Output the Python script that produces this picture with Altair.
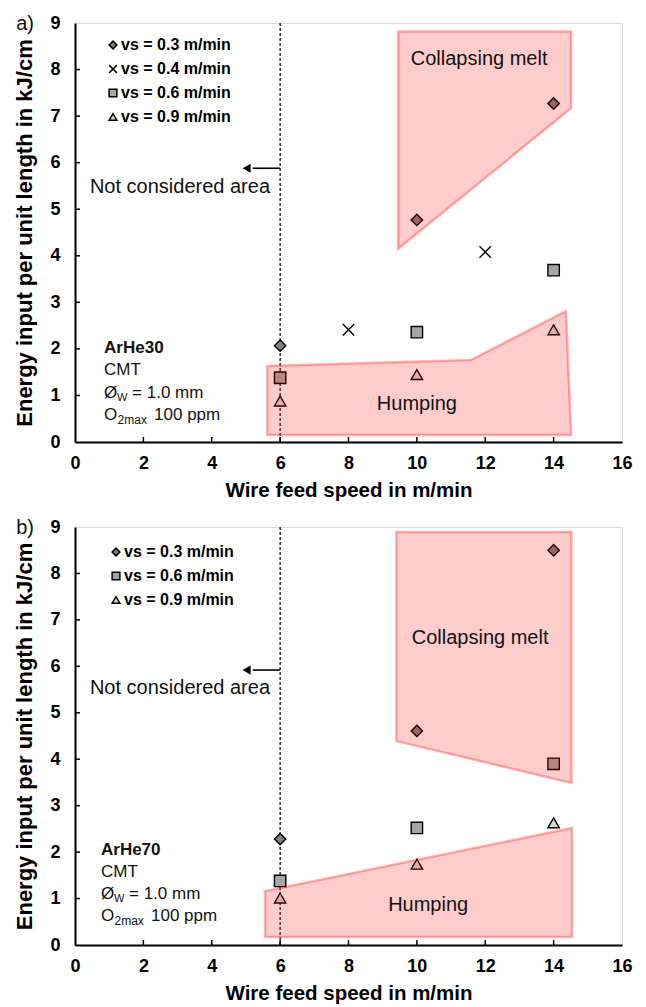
import altair as alt
import pandas as pd

FONT = "Liberation Sans"

# ---------------- data ----------------
series_names = ["vs = 0.3 m/min", "vs = 0.4 m/min", "vs = 0.6 m/min", "vs = 0.9 m/min"]

# panel a) ArHe30
a_wfs_03 = [6, 10, 14]
a_e_03 = [2.07, 4.77, 7.27]
a_wfs_04 = [8, 12]
a_e_04 = [2.41, 4.08]
a_wfs_06 = [6, 10, 14]
a_e_06 = [1.38, 2.36, 3.69]
a_wfs_09 = [6, 10, 14]
a_e_09 = [0.88, 1.45, 2.41]

# panel b) ArHe70
b_wfs_03 = [6, 10, 14]
b_e_03 = [2.28, 4.61, 8.50]
b_wfs_06 = [6, 10, 14]
b_e_06 = [1.38, 2.52, 3.90]
b_wfs_09 = [6, 10, 14]
b_e_09 = [1.01, 1.74, 2.63]

# process-window regions (x, upper, lower)
a_collapse_x = [9.45, 14.51]
a_collapse_top = [8.82, 8.82]
a_collapse_bot = [4.15, 7.17]
a_hump_x = [5.62, 11.58, 14.36, 14.51]
a_hump_top = [1.63, 1.76, 2.81, 0.15]
a_hump_bot = [0.15, 0.15, 0.15, 0.15]

b_collapse_x = [9.40, 14.52]
b_collapse_top = [8.89, 8.89]
b_collapse_bot = [4.39, 3.49]
b_hump_x = [5.56, 14.54]
b_hump_top = [1.16, 2.52]
b_hump_bot = [0.17, 0.17]

x_ticks = [0, 2, 4, 6, 8, 10, 12, 14, 16]
y_ticks = [0, 1, 2, 3, 4, 5, 6, 7, 8, 9]

W = 547

shape_map = {
    "vs = 0.3 m/min": "diamond",
    "vs = 0.4 m/min": "M-1,-1L1,1M-1,1L1,-1",
    "vs = 0.6 m/min": "square",
    "vs = 0.9 m/min": "triangle-up",
}
fill_map = {
    "vs = 0.3 m/min": "#7f7f7f",
    "vs = 0.4 m/min": "#000000",
    "vs = 0.6 m/min": "#a6a6a6",
    "vs = 0.9 m/min": "#d9d9d9",
}


def legend(lx, ly):
    return alt.Legend(title=None, orient="none", legendX=lx, legendY=ly,
                      labelFont=FONT, labelFontSize=16, labelFontWeight="bold",
                      labelColor="black", symbolSize=60, rowPadding=8,
                      labelOffset=0, padding=0)


def panel(letter, gas, pts, collapse, hump, H, legend_xy, txt):
    xs = alt.Scale(domain=[0, 16], nice=False, zero=False)
    ys = alt.Scale(domain=[0, 9], nice=False, zero=False)
    xaxis = alt.Axis(values=x_ticks, grid=False, ticks=False, domainColor="black",
                     domainWidth=2, labelFont=FONT, labelFontWeight="bold",
                     labelFontSize=18, labelColor="black", labelPadding=12,
                     labelFlush=False,
                     title="Wire feed speed in m/min", titleFont=FONT,
                     titleFontWeight="bold", titleFontSize=20.5, titleColor="black",
                     titlePadding=8, format="d")
    yaxis = alt.Axis(values=y_ticks, grid=False, ticks=False, domainColor="black",
                     domainWidth=2, labelFont=FONT, labelFontWeight="bold",
                     labelFontSize=18, labelColor="black", labelPadding=15,
                     labelFlush=False,
                     title="Energy input per unit length in kJ/cm", titleFont=FONT,
                     titleFontWeight="bold", titleFontSize=22, titleColor="black",
                     titlePadding=13, format="d")
    X = alt.X("x:Q", scale=xs, axis=xaxis)
    Y = alt.Y("y:Q", scale=ys, axis=yaxis)

    rows = []
    for name, xv, yv in pts:
        for a, b in zip(xv, yv):
            rows.append({"x": a, "y": b, "series": name})
    pdf = pd.DataFrame(rows)
    names = [p[0] for p in pts]

    dashed = alt.Chart(pd.DataFrame({"x": [6]})).mark_rule(
        color="black", strokeDash=[3, 2], strokeWidth=1.2).encode(x=X)

    arrow_line = alt.Chart(pd.DataFrame({"x": [6], "x2": [5.2], "y": [txt["arrow_y"]]})).mark_rule(
        color="black", strokeWidth=1.6).encode(x=X, x2="x2:Q", y=Y)
    arrow_head = alt.Chart(pd.DataFrame({"x": [5.02], "y": [txt["arrow_y"]]})).mark_point(
        shape="triangle-left", filled=True, color="black", size=85, opacity=1).encode(x=X, y=Y)

    points = alt.Chart(pdf).mark_point(filled=True, stroke="black", strokeWidth=1.4,
                                       size=130, opacity=1).encode(
        x=X, y=Y,
        shape=alt.Shape("series:N", scale=alt.Scale(domain=names, range=[shape_map[n] for n in names]),
                        legend=legend(*legend_xy)),
        fill=alt.Fill("series:N", scale=alt.Scale(domain=names, range=[fill_map[n] for n in names]),
                      legend=legend(*legend_xy)),
    )

    def region(xv, top, bot):
        return alt.Chart(pd.DataFrame({"x": xv, "y": top, "y2": bot})).mark_area(
            fill="#ff0000", fillOpacity=0.2, stroke="#ff0000", strokeOpacity=0.3,
            strokeWidth=2.5).encode(x=X, y=Y, y2="y2:Q")

    reg1 = region(*collapse)
    reg2 = region(*hump)

    def text(x, y, s, size=20, weight="normal", align="center", dx=0, dy=0):
        return alt.Chart(pd.DataFrame({"x": [x], "y": [y], "t": [s]})).mark_text(
            font=FONT, fontSize=size, fontWeight=weight, align=align, baseline="middle",
            color="#111111", dx=dx, dy=dy).encode(x=X, y=Y, text="t:N")

    ax, ay = txt["anno"]
    layers = [
        dashed, arrow_line, arrow_head, points, reg1, reg2,
        text(3.07, txt["nca_y"], "Not considered area"),
        text(txt["cm"][0], txt["cm"][1], "Collapsing melt"),
        text(txt["hu"][0], txt["hu"][1], "Humping"),
        text(ax, ay[0], gas, size=17, weight="bold", align="left"),
        text(ax, ay[1], "CMT", size=17, align="left"),
        text(ax, ay[2], "Ø", size=17, align="left"),
        text(ax, ay[2], "W", size=11, align="left", dx=13, dy=5),
        text(ax, ay[2], "= 1.0 mm", size=17, align="left", dx=28),
        text(ax, ay[3], "O", size=17, align="left"),
        text(ax, ay[3], "2max", size=12, align="left", dx=13.5, dy=5),
        text(ax, ay[3], "100 ppm", size=17, align="left", dx=50),
        text(-1.46, 9, letter, size=20, align="center", dy=1),
    ]
    # inward ticks
    xt = alt.Chart(pd.DataFrame({"x": x_ticks[1:-1]})).mark_rule(color="black", strokeWidth=1.5).encode(
        x=X, y=alt.value(H), y2=alt.value(H - 5))
    yt = alt.Chart(pd.DataFrame({"y": y_ticks[1:-1]})).mark_rule(color="black", strokeWidth=1.5).encode(
        y=Y, x=alt.value(0), x2=alt.value(5))
    layers += [xt, yt]
    return alt.layer(*layers).properties(width=W, height=H).resolve_scale(
        shape="independent", fill="independent")


pts_a = [
    (series_names[0], a_wfs_03, a_e_03),
    (series_names[1], a_wfs_04, a_e_04),
    (series_names[2], a_wfs_06, a_e_06),
    (series_names[3], a_wfs_09, a_e_09),
]
pts_b = [
    (series_names[0], b_wfs_03, b_e_03),
    (series_names[2], b_wfs_06, b_e_06),
    (series_names[3], b_wfs_09, b_e_09),
]

chart_a = panel("a)", "ArHe30", pts_a,
                (a_collapse_x, a_collapse_top, a_collapse_bot),
                (a_hump_x, a_hump_top, a_hump_bot), 419, (30, 14),
                {"arrow_y": 5.88, "nca_y": 5.48, "cm": (11.82, 8.23), "hu": (10.0, 0.82),
                 "anno": (0.85, [2.02, 1.55, 1.05, 0.58])})
chart_b = panel("b)", "ArHe70", pts_b,
                (b_collapse_x, b_collapse_top, b_collapse_bot),
                (b_hump_x, b_hump_top, b_hump_bot), 418, (33, 17),
                {"arrow_y": 5.92, "nca_y": 5.53, "cm": (11.85, 6.61), "hu": (10.33, 0.86),
                 "anno": (0.76, [2.05, 1.57, 1.10, 0.62])})

chart = alt.vconcat(chart_a, chart_b, spacing=16).resolve_scale(
    shape="independent", fill="independent").resolve_legend(
    shape="independent", fill="independent").configure_view(
    stroke="black", strokeWidth=1.3).configure_legend(
    symbolStrokeColor="black", symbolStrokeWidth=1.2).configure(background="white")

chart.save("out.html", embed_options={"renderer": "svg", "actions": False})
